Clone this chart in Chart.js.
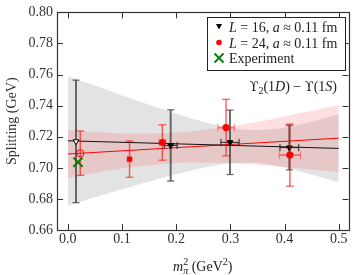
<!DOCTYPE html>
<html><head><meta charset="utf-8">
<script src="https://cdn.jsdelivr.net/npm/chart.js@4.4.1/dist/chart.umd.min.js"></script>
<style>html,body{margin:0;padding:0;background:#fff;}#wrap{width:357px;height:275px;}</style>
</head><body><div id="wrap"><canvas id="c" width="357" height="275"></canvas></div>
<script>
// ---- data ----
const xTicks = [0.0, 0.1, 0.2, 0.3, 0.4, 0.5];
const yTicks = [0.66, 0.68, 0.70, 0.72, 0.74, 0.76, 0.78, 0.80];

const l16X    = [0.0151, 0.1898, 0.2993, 0.4088];
const l16Y    = [0.7170, 0.7144, 0.7164, 0.7130];
const l16YErr = [0.0394, 0.0229, 0.0207, 0.0143];
const l16XErr = [0, 0.012, 0.0167, 0.0173];

const l24X    = [0.0230, 0.1139, 0.1745, 0.2920, 0.4098];
const l24Y    = [0.7094, 0.7056, 0.7163, 0.7259, 0.7082];
const l24YErr = [0.0143, 0.0117, 0.0114, 0.0182, 0.0200];
const l24XErr = [0, 0, 0.006, 0.0152, 0.0197];
const l24Style = ['circle', 'rect', 'circle', 'circle', 'circle'];
const l24Fill  = ['rgba(255,255,255,0)', 'red', 'red', 'red', 'red'];

const expX = [0.0188];
const expY = [0.7036];

const fitX   = [0.0, 0.5];
const fit16Y = [0.7174, 0.7125];
const fit24Y = [0.7089, 0.7191];

const bandX  = [0.00, 0.05, 0.10, 0.15, 0.20, 0.25, 0.30, 0.35, 0.40, 0.45, 0.50];
const grayLo = [0.6757, 0.6811, 0.6862, 0.6912, 0.6958, 0.7000, 0.7028, 0.7031, 0.7002, 0.6956, 0.6907];
const grayHi = [0.7589, 0.7529, 0.7466, 0.7406, 0.7348, 0.7296, 0.7256, 0.7243, 0.7260, 0.7296, 0.7346];
const redLo  = [0.6935, 0.6967, 0.6995, 0.7017, 0.7031, 0.7034, 0.7029, 0.7019, 0.7005, 0.6989, 0.6971];
const redHi  = [0.7244, 0.7231, 0.7223, 0.7221, 0.7227, 0.7244, 0.7267, 0.7297, 0.7331, 0.7367, 0.7405];

const pts = (xs, ys) => xs.map((x, i) => ({x: x, y: ys[i]}));
const SERIF = '"Liberation Serif", "DejaVu Serif", serif';

const errorBars = {
  id: 'errorBars',
  beforeDatasetDraw(chart, args) {
    const ds = chart.data.datasets[args.index];
    if (!ds.yErr) return;
    const ctx = chart.ctx, xs = chart.scales.x, ys = chart.scales.y;
    const seg = (a, b, c, d) => { ctx.beginPath(); ctx.moveTo(a, b); ctx.lineTo(c, d); ctx.stroke(); };
    ctx.save();
    ds.data.forEach((p, i) => {
      const px = xs.getPixelForValue(p.x), py = ys.getPixelForValue(p.y);
      const xe = ds.xErr ? ds.xErr[i] : 0, ye = ds.yErr[i];
      if (xe > 0) {
        const x0 = xs.getPixelForValue(p.x - xe), x1 = xs.getPixelForValue(p.x + xe);
        ctx.strokeStyle = ds.xErrColor; ctx.lineWidth = ds.xErrWidth;
        seg(x0, py, x1, py);
        ctx.lineWidth = 1;
        seg(x0, py - ds.cap, x0, py + ds.cap); seg(x1, py - ds.cap, x1, py + ds.cap);
      }
      if (ye > 0) {
        const y0 = ys.getPixelForValue(p.y - ye), y1 = ys.getPixelForValue(p.y + ye);
        ctx.strokeStyle = ds.yErrColor; ctx.lineWidth = ds.yErrWidth;
        seg(px, y0, px, y1);
        ctx.lineWidth = 1.3;
        seg(px - ds.cap, y0, px + ds.cap, y0); seg(px - ds.cap, y1, px + ds.cap, y1);
      }
    });
    ctx.restore();
  }
};

function fontOf(p) { return (p.i ? 'italic ' : '') + (p.s || 14) + 'px ' + (p.f || SERIF); }
function richWidth(ctx, parts) {
  let w = 0;
  parts.forEach(p => { ctx.font = fontOf(p); if (!p.stack) w += ctx.measureText(p.t).width; });
  return w;
}
function drawRich(ctx, x, y, parts) {
  ctx.textAlign = 'left'; ctx.textBaseline = 'alphabetic';
  parts.forEach(p => {
    ctx.font = fontOf(p);
    ctx.fillText(p.t, x, y + (p.dy || 0));
    if (!p.stack) x += ctx.measureText(p.t).width;
  });
}

const decor = {
  id: 'decor',
  afterDraw(chart) {
    const ctx = chart.ctx, a = chart.chartArea, xs = chart.scales.x, ys = chart.scales.y;
    ctx.save();
    // inward ticks on all four sides
    ctx.strokeStyle = '#333'; ctx.lineWidth = 1;
    const T = 6;
    xTicks.forEach(v => {
      const px = Math.round(xs.getPixelForValue(v)) + 0.5;
      ctx.beginPath(); ctx.moveTo(px, a.bottom); ctx.lineTo(px, a.bottom - T);
      ctx.moveTo(px, a.top); ctx.lineTo(px, a.top + T); ctx.stroke();
    });
    yTicks.forEach(v => {
      const py = Math.round(ys.getPixelForValue(v)) + 0.5;
      ctx.beginPath(); ctx.moveTo(a.left, py); ctx.lineTo(a.left + T, py);
      ctx.moveTo(a.right, py); ctx.lineTo(a.right - T, py); ctx.stroke();
    });
    ctx.lineWidth = 1.2;
    ctx.strokeRect(Math.round(a.left) + 0.5, Math.round(a.top) + 0.5, Math.round(a.right - a.left), Math.round(a.bottom - a.top));

    // legend
    const bx = 207.5, by = 17.5, bw = 138, bh = 53;
    ctx.fillStyle = '#fff'; ctx.fillRect(bx, by, bw, bh);
    ctx.strokeStyle = '#222'; ctx.lineWidth = 1; ctx.strokeRect(bx, by, bw, bh);
    ctx.fillStyle = '#000';
    ctx.beginPath(); ctx.moveTo(216, 24); ctx.lineTo(222, 24); ctx.lineTo(219, 29.5); ctx.closePath(); ctx.fill();
    ctx.fillStyle = 'red';
    ctx.beginPath(); ctx.arc(219, 42.5, 2.8, 0, Math.PI * 2); ctx.fill();
    ctx.strokeStyle = 'green'; ctx.lineWidth = 1.8;
    ctx.beginPath(); ctx.moveTo(214.5, 53.5); ctx.lineTo(223.5, 62.5); ctx.moveTo(223.5, 53.5); ctx.lineTo(214.5, 62.5); ctx.stroke();
    ctx.fillStyle = '#222';
    drawRich(ctx, 229, 32, [{t: 'L', i: true}, {t: ' = 16, '}, {t: 'a', i: true}, {t: ' ≈ 0.11 fm'}]);
    drawRich(ctx, 229, 47.5, [{t: 'L', i: true}, {t: ' = 24, '}, {t: 'a', i: true}, {t: ' ≈ 0.11 fm'}]);
    drawRich(ctx, 229, 63, [{t: 'Experiment'}]);

    // annotation
    const UF = '"DejaVu Serif", serif';
    const ann = [{t: 'ϒ', s: 13, f: UF}, {t: '2', s: 10, dy: 3}, {t: '(1'}, {t: 'D', i: true}, {t: ') − '}, {t: 'ϒ', s: 13, f: UF}, {t: '(1'}, {t: 'S', i: true}, {t: ')'}];
    drawRich(ctx, 337 - richWidth(ctx, ann), 91, ann);

    // x-axis title
    const xt = [{t: 'm', i: true}, {t: '2', s: 10, dy: -6, stack: true}, {t: 'π', s: 10, i: true, dy: 3}, {t: ' (GeV'}, {t: '2', s: 10, dy: -6}, {t: ')'}];
    const cx = (a.left + a.right) / 2;
    drawRich(ctx, cx - richWidth(ctx, xt) / 2, 271, xt);
    ctx.restore();
  }
};

new Chart(document.getElementById('c'), {
  type: 'scatter',
  data: {
    datasets: [
      {type: 'line', data: pts(bandX, grayHi), borderWidth: 0, pointRadius: 0, fill: '+1', backgroundColor: 'rgba(0,0,0,0.11)', tension: 0.3, order: 10},
      {type: 'line', data: pts(bandX, grayLo), borderWidth: 0, pointRadius: 0, fill: false, tension: 0.3, order: 10},
      {type: 'line', data: pts(bandX, redHi), borderWidth: 0, pointRadius: 0, fill: '+1', backgroundColor: 'rgba(255,0,0,0.12)', tension: 0.3, order: 9},
      {type: 'line', data: pts(bandX, redLo), borderWidth: 0, pointRadius: 0, fill: false, tension: 0.3, order: 9},
      {type: 'line', data: pts(fitX, fit16Y), borderColor: '#111', borderWidth: 1, pointRadius: 0, fill: false, order: 5},
      {type: 'line', data: pts(fitX, fit24Y), borderColor: '#ff0000', borderWidth: 1, pointRadius: 0, fill: false, order: 5},
      {label: 'L=16', data: pts(l16X, l16Y), yErr: l16YErr, xErr: l16XErr, cap: 3.5,
        yErrColor: 'rgba(60,60,60,0.75)', yErrWidth: 2, xErrColor: '#222', xErrWidth: 1,
        pointStyle: 'triangle', rotation: 180, radius: 3.3, borderWidth: 1,
        backgroundColor: ['#fff', '#000', '#000', '#000'], borderColor: '#000', order: 2},
      {label: 'L=24', data: pts(l24X, l24Y), yErr: l24YErr, xErr: l24XErr, cap: 4,
        yErrColor: 'rgba(255,0,0,0.6)', yErrWidth: 1.5, xErrColor: 'rgba(255,40,40,0.55)', xErrWidth: 2,
        pointStyle: l24Style, radius: [3.6, 3, 3, 3, 3], borderWidth: [1, 1.2, 1.2, 1.2, 1.2],
        backgroundColor: l24Fill, borderColor: 'red', order: 1},
      {label: 'Experiment', data: pts(expX, expY), pointStyle: 'crossRot', radius: 6.5, borderWidth: 2, borderColor: 'green', order: 0}
    ]
  },
  options: {
    responsive: false, animation: false, devicePixelRatio: 1,
    layout: {padding: {left: 4, top: 10, right: 5, bottom: 0}},
    plugins: {legend: {display: false}, tooltip: {enabled: false}},
    scales: {
      x: {type: 'linear', min: -0.02, max: 0.518,
        afterBuildTicks: s => { s.ticks = xTicks.map(v => ({value: v})); },
        afterFit: s => { s.height = 45; },
        grid: {display: false, drawTicks: false}, border: {display: false},
        ticks: {padding: 1, color: '#333', font: {family: SERIF, size: 14}, callback: v => v.toFixed(1)}},
      y: {type: 'linear', min: 0.66, max: 0.80,
        afterBuildTicks: s => { s.ticks = yTicks.map(v => ({value: v})); },
        afterFit: s => { s.width = 53; },
        grid: {display: false, drawTicks: false}, border: {display: false},
        title: {display: true, text: 'Splitting (GeV)', color: '#333', padding: 0, font: {family: SERIF, size: 14}},
        ticks: {padding: 4, color: '#333', font: {family: SERIF, size: 14}, callback: v => v.toFixed(2)}}
    }
  },
  plugins: [errorBars, decor]
});
</script></body></html>
